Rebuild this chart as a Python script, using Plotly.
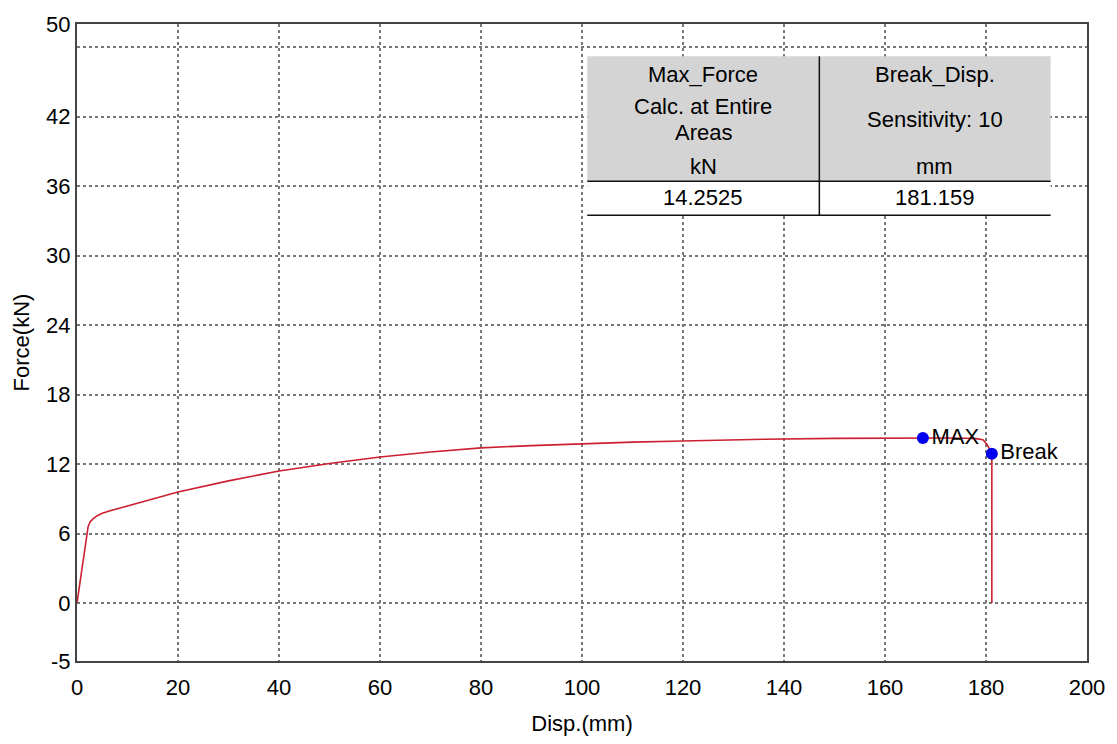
import plotly.graph_objects as go

# ---- data ----
disp = [0, 0.5, 1.0, 1.5, 1.8, 2.2, 2.6, 3.1, 4, 5, 6.4, 10, 15, 20, 30, 40, 50, 60, 70, 80, 90,
        100, 110, 120, 127, 136, 150, 160, 168, 172, 176, 178, 179.4, 180.2, 180.8, 181.159, 181.159]
force = [0, 1.6, 3.2, 4.8, 5.8, 6.6, 7.0, 7.25, 7.55, 7.75, 7.95, 8.4, 9.0, 9.6, 10.55, 11.4, 12.05,
         12.62, 13.05, 13.4, 13.6, 13.77, 13.9, 14.0, 14.08, 14.15, 14.22, 14.25, 14.25, 14.25, 14.23,
         14.2, 14.1, 13.7, 13.2, 12.9, 0]

point_names = ["MAX", "Break"]
point_disp = [167.5, 181.159]
point_force = [14.2525, 12.9]

x_ticks = [0, 20, 40, 60, 80, 100, 120, 140, 160, 180, 200]
y_tickvals = [-5, 0, 6, 12, 18, 24, 30, 36, 42, 48, 50]
y_ticktext = ["-5", "0", "6", "12", "18", "24", "30", "36", "42", "", "50"]

table_header_left = ["Max_Force", "Calc. at Entire", "Areas", "kN"]
table_header_right = ["Break_Disp.", "Sensitivity: 10", "mm"]
table_values = ["14.2525", "181.159"]

FONT = "Liberation Sans, Arial, sans-serif"
FS = 22

fig = go.Figure()
fig.add_trace(go.Scatter(x=disp, y=force, mode="lines",
                         line=dict(color="#cc2030", width=1.6), hoverinfo="skip",
                         showlegend=False))
fig.add_trace(go.Scatter(x=point_disp, y=point_force, mode="markers+text",
                         marker=dict(color="#0000ee", size=12),
                         text=point_names, textposition="middle right",
                         textfont=dict(size=FS, color="#000", family=FONT),
                         showlegend=False))

# ---- table overlay (paper coords) ----
x0, xm, x1 = 0.5052, 0.735, 0.964
y_top, y_hdr, y_bot = 0.9493, 0.7530, 0.6997
shapes = [
    dict(type="rect", xref="paper", yref="paper", x0=x0, x1=x1, y0=y_hdr, y1=y_top,
         fillcolor="#d4d4d4", line=dict(width=0), layer="above"),
    dict(type="rect", xref="paper", yref="paper", x0=x0, x1=x1, y0=y_bot, y1=y_hdr,
         fillcolor="white", line=dict(width=0), layer="above"),
    dict(type="line", xref="paper", yref="paper", x0=x0, x1=x1, y0=y_hdr, y1=y_hdr,
         line=dict(color="#111", width=1.5), layer="above"),
    dict(type="line", xref="paper", yref="paper", x0=x0, x1=x1, y0=y_bot, y1=y_bot,
         line=dict(color="#111", width=1.5), layer="above"),
    dict(type="line", xref="paper", yref="paper", x0=xm, x1=xm, y0=y_bot, y1=y_top,
         line=dict(color="#111", width=1.5), layer="above"),
]
cl, cr = (x0 + xm) / 2, (xm + x1) / 2
left_y = [0.9209, 0.8698, 0.8295, 0.7767]
right_y = [0.9209, 0.8496, 0.7767]
annotations = []
def ann(t, xx, yy):
    return dict(x=xx, y=yy, xref="paper", yref="paper", text=t, showarrow=False,
                xanchor="center", yanchor="middle",
                font=dict(size=FS, color="#000", family=FONT))
for t, yy in zip(table_header_left, left_y):
    annotations.append(ann(t, cl, yy))
for t, yy in zip(table_header_right, right_y):
    annotations.append(ann(t, cr, yy))
for t, xx in zip(table_values, [cl, cr]):
    annotations.append(ann(t, xx, 0.7271))

fig.update_layout(
    width=1117, height=744,
    margin=dict(l=77, r=30, t=19, b=80),
    paper_bgcolor="white", plot_bgcolor="white",
    font=dict(family=FONT, size=FS, color="#000"),
    shapes=shapes, annotations=annotations,
    xaxis=dict(range=[0, 200], tickvals=x_ticks, showgrid=True, gridcolor="#777",
               griddash="dot", gridwidth=1.5, zeroline=False, showline=True,
               linecolor="#444", linewidth=2, mirror=True, ticks="", ticklabelstandoff=6,
               tickfont=dict(size=FS), title=dict(text="Disp.(mm)", font=dict(size=FS), standoff=16)),
    yaxis=dict(range=[-5, 50], tickvals=y_tickvals, ticktext=y_ticktext, showgrid=True,
               gridcolor="#777", griddash="dot", gridwidth=1.5, zeroline=False, showline=True,
               linecolor="#444", linewidth=2, mirror=True, ticks="",
               tickfont=dict(size=FS), title=dict(text="Force(kN)", font=dict(size=FS), standoff=10)),
)

fig.write_html("out.html")
